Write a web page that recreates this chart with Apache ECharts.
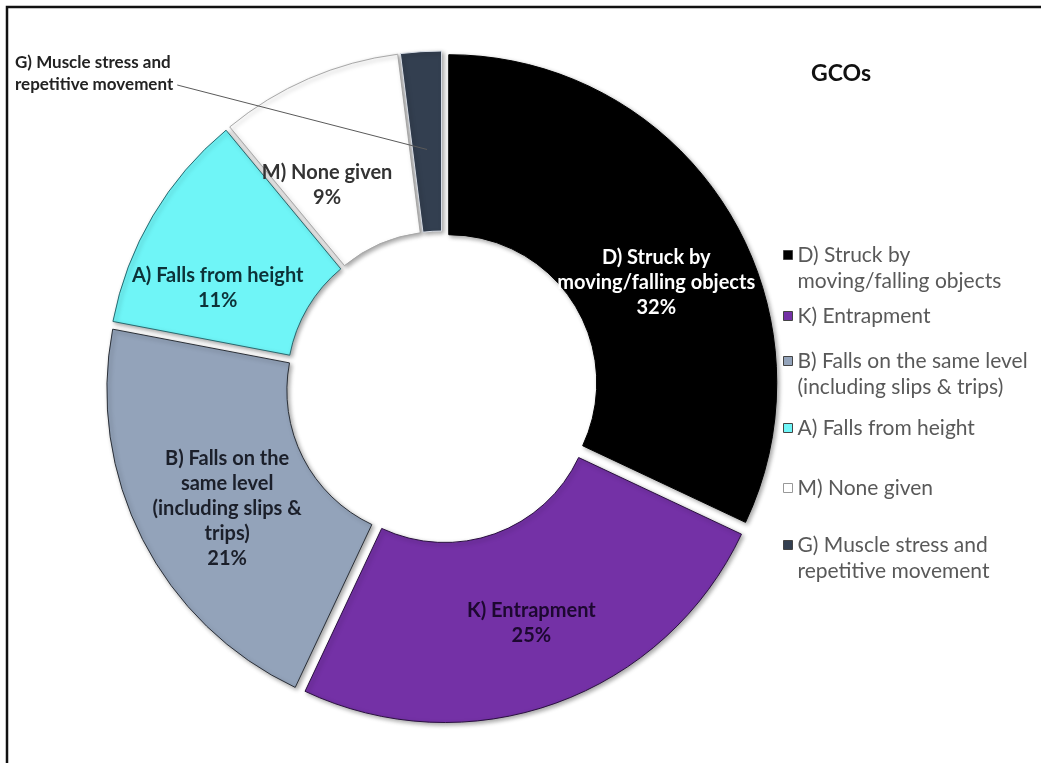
<!DOCTYPE html>
<html>
<head>
<meta charset="utf-8">
<script src="https://cdn.jsdelivr.net/npm/echarts@6/dist/echarts.min.js"></script>
<style>
  html, body { margin: 0; padding: 0; background: #fff; }
  #chart { width: 1041px; height: 763px; }
</style>
</head>
<body>
<div id="chart"></div>
<script>
// Categories of GCOs (general causes of occurrence) and their shares in percent
const categories = [
  'D) Struck by moving/falling objects',
  'K) Entrapment',
  'B) Falls on the same level (including slips & trips)',
  'A) Falls from height',
  'M) None given',
  'G) Muscle stress and repetitive movement'
];
const shares = [32, 25, 21, 11, 9, 2];

// Text written on each slice (value appended below)
const sliceLabels = [
  'D) Struck by\nmoving/falling objects',
  'K) Entrapment',
  'B) Falls on the\nsame level\n(including slips &\ntrips)',
  'A) Falls from height',
  'M) None given',
  'G) Muscle stress and\nrepetitive movement'
];
// Legend entries, wrapped as in the legend box
const legendLabels = [
  'D) Struck by\nmoving/falling objects',
  'K) Entrapment',
  'B) Falls on the same level\n(including slips & trips)',
  'A) Falls from height',
  'M) None given',
  'G) Muscle stress and\nrepetitive movement'
];

// Styling
const colors = ['#000000', '#7431A6', '#93A3BA', '#6FF5F7', '#FFFFFF', '#333F50'];
const borderColors = ['#000000', '#2a1040', '#2b3038', '#2a6a70', '#a8a8a8', '#d8dde6'];
const labelColors = ['#FFFFFF', '#1d0830', '#1b1f2a', '#0d3238', '#333333', '#222222'];
const labelShift = [[4, 29], [5, 2], [7, 9], [-10, 28], [-16, 27], [0, 0]];
const showValue = [true, true, true, true, true, false];

const FONT = 'Lato, "Open Sans", sans-serif';
const CENTER = [442, 387];
const RADII = [148, 328];
const EXPLODE = 8;
const CALLOUT = 5; // slice whose label sits outside with a leader line

// Mid angle (clockwise from 12 o'clock) of a slice, from the data
function midAngle(idx) {
  const total = shares.reduce((a, b) => a + b, 0);
  let before = 0;
  for (let k = 0; k < idx; k++) before += shares[k];
  return (before + shares[idx] / 2) / total * Math.PI * 2;
}

const sliceData = categories.map((name, i) => ({
  name: name,
  value: shares[i],
  selected: true,
  itemStyle: { color: colors[i], borderColor: borderColors[i], borderWidth: 1 },
  label: { show: i !== CALLOUT, color: labelColors[i] }
}));

// Same values again on a transparent ring above, carrying the outside callout
const calloutData = categories.map((name, i) => ({
  name: name,
  value: shares[i],
  label: { show: i === CALLOUT },
  labelLine: { show: i === CALLOUT }
}));

// One legend block per entry so each can sit at its own height
const legendTops = [242, 303, 348, 415, 475, 532];
const legends = categories.map((name, i) => {
  const twoLine = legendLabels[i].indexOf('\n') >= 0;
  return {
    data: [name],
    orient: 'vertical',
    left: 783,
    top: legendTops[i],
    padding: 0,
    selectedMode: false,
    itemWidth: 9,
    itemHeight: twoLine ? 35 : 9,
    itemGap: 0,
    icon: twoLine ? 'path://M0,0L9,0L9,9L0,9Z M0,35L0.01,35' : 'rect',
    itemStyle: { borderColor: i === 4 ? '#999' : '#444', borderWidth: 1 },
    formatter: () => legendLabels[i],
    textStyle: { fontFamily: FONT, fontSize: 21, lineHeight: 26, color: '#595959' }
  };
});

const chart = echarts.init(document.getElementById('chart'), null, { renderer: 'canvas' });
chart.setOption({
  backgroundColor: '#ffffff',
  animation: false,
  title: {
    text: 'GCOs',
    left: 806,
    top: 57,
    textStyle: { fontFamily: FONT, fontSize: 23, fontWeight: 'bold', color: '#111' }
  },
  legend: legends,
  graphic: [{
    type: 'rect',
    shape: { x: 7, y: 7, width: 1100, height: 1000 },
    style: { fill: 'none', stroke: '#111', lineWidth: 2.5 },
    silent: true
  }],
  series: [{
    type: 'pie',
    center: CENTER,
    radius: RADII,
    startAngle: 90,
    clockwise: true,
    selectedMode: 'multiple',
    selectedOffset: EXPLODE,
    avoidLabelOverlap: false,
    emphasis: { disabled: true },
    itemStyle: {
      shadowBlur: 4,
      shadowOffsetX: 2,
      shadowOffsetY: 2,
      shadowColor: 'rgba(0,0,0,0.35)'
    },
    label: {
      position: 'inside',
      fontFamily: FONT,
      fontWeight: 'bold',
      fontSize: 20,
      lineHeight: 25,
      align: 'center',
      formatter: p => showValue[p.dataIndex]
        ? sliceLabels[p.dataIndex] + '\n' + p.value + '%'
        : sliceLabels[p.dataIndex]
    },
    labelLine: { show: false },
    labelLayout: params => ({
      dx: labelShift[params.dataIndex][0],
      dy: labelShift[params.dataIndex][1]
    }),
    data: sliceData
  }, {
    type: 'pie',
    z: 5,
    silent: true,
    center: CENTER,
    radius: RADII,
    startAngle: 90,
    clockwise: true,
    avoidLabelOverlap: false,
    emphasis: { disabled: true },
    itemStyle: { color: 'rgba(0,0,0,0)', borderWidth: 0 },
    label: {
      position: 'outside',
      fontFamily: FONT,
      fontWeight: 'bold',
      fontSize: 17,
      lineHeight: 22,
      color: labelColors[CALLOUT],
      formatter: p => sliceLabels[p.dataIndex]
    },
    labelLine: { lineStyle: { color: '#5a5a5a', width: 1 } },
    labelLayout: params => {
      if (params.dataIndex !== CALLOUT) return;
      const a = midAngle(CALLOUT);
      const rMid = (RADII[0] + RADII[1]) / 2;
      const sx = CENTER[0] + Math.sin(a) * rMid;
      const sy = CENTER[1] - Math.cos(a) * rMid;
      const lx = 15, ly = 74;
      const ex = lx + params.labelRect.width + 4;
      const ey = ly + 11;
      return {
        x: lx,
        y: ly,
        align: 'left',
        verticalAlign: 'middle',
        labelLinePoints: [[ex, ey], [(ex + sx) / 2, (ey + sy) / 2], [sx, sy]]
      };
    },
    data: calloutData
  }]
});
</script>
</body>
</html>
